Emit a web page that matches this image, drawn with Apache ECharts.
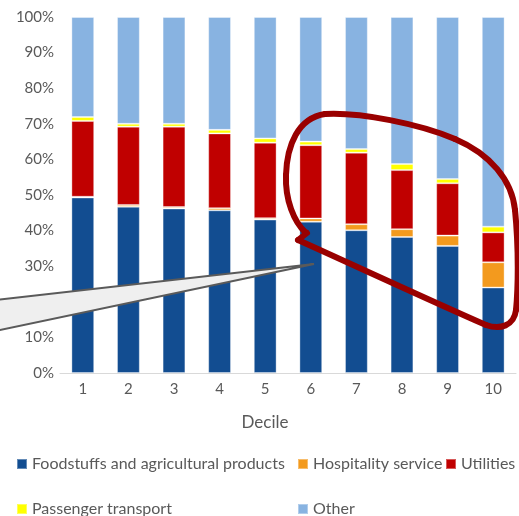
<!DOCTYPE html>
<html>
<head>
<meta charset="utf-8">
<script src="https://cdn.jsdelivr.net/npm/echarts@6/dist/echarts.min.js"></script>
<style>
  html, body { margin: 0; padding: 0; background: #ffffff; }
  #chart { width: 519px; height: 516px; }
</style>
</head>
<body>
<div id="chart"></div>
<script>
// Expenditure shares by income decile (percent of total)
const deciles = ['1', '2', '3', '4', '5', '6', '7', '8', '9', '10'];
const foodstuffs = [49.3, 46.7, 46.2, 45.7, 43.1, 42.5, 40.1, 38.2, 35.7, 24.0];
const hospitality = [0.2, 0.5, 0.4, 0.6, 0.4, 0.9, 1.7, 2.2, 2.9, 7.1];
const utilities = [21.3, 22.0, 22.6, 21.0, 21.2, 20.6, 20.1, 16.6, 14.7, 8.4];
const transport = [1.1, 0.8, 0.8, 1.0, 1.2, 1.0, 1.0, 1.7, 1.2, 1.6];
const other = [28.1, 30.0, 30.0, 31.7, 34.1, 35.0, 37.1, 41.3, 45.5, 58.9];
const yTicks = [0, 10, 20, 30, 40, 50, 60, 70, 80, 90, 100];

const seriesDefs = [
  { name: 'Foodstuffs and agricultural products', data: foodstuffs, color: '#124D91' },
  { name: 'Hospitality service', data: hospitality, color: '#F39A1E' },
  { name: 'Utilities', data: utilities, color: '#C00000' },
  { name: 'Passenger transport', data: transport, color: '#FFFF00' },
  { name: 'Other', data: other, color: '#88B3E1' }
];

const FONT = 'Lato';
const GREY = '#595959';

// Legend laid out as two rows with aligned columns
const legendPos = [
  { left: 16, top: 456 },
  { left: 297, top: 456 },
  { left: 445, top: 456 },
  { left: 16, top: 501 },
  { left: 297, top: 501 }
];

// Highlight loop as cubic segments: [start, cp1, cp2, end]
const loopSegments = [
  [[306, 233], [294, 222], [285, 200], [286, 175]],
  [[286, 175], [287, 145], [298, 118], [325, 114]],
  [[325, 114], [360, 112], [420, 124], [455, 139]],
  [[455, 139], [490, 154], [512, 180], [515, 210]],
  [[515, 210], [519, 250], [518, 290], [516, 310]],
  [[516, 310], [514, 326], [500, 330], [486, 325]],
  [[486, 325], [440, 305], [360, 268], [298, 240]]
];
const LOOP_STYLE = { fill: null, stroke: '#990000', lineWidth: 6, lineCap: 'round', lineJoin: 'round' };

const loopGraphics = loopSegments.map(s => ({
  type: 'bezierCurve',
  z: 101,
  shape: {
    x1: s[0][0], y1: s[0][1],
    cpx1: s[1][0], cpy1: s[1][1],
    cpx2: s[2][0], cpy2: s[2][1],
    x2: s[3][0], y2: s[3][1]
  },
  style: LOOP_STYLE
}));
loopGraphics.push({
  type: 'line',
  z: 101,
  shape: { x1: 298, y1: 240, x2: 307, y2: 233 },
  style: LOOP_STYLE
});

const chart = echarts.init(document.getElementById('chart'), null, { renderer: 'canvas' });

chart.setOption({
  animation: false,
  backgroundColor: '#ffffff',
  grid: { left: 60, right: 3, top: 17, bottom: 143 },
  xAxis: {
    type: 'category',
    data: deciles,
    name: 'Decile',
    nameLocation: 'middle',
    nameGap: 41,
    nameTextStyle: { fontFamily: FONT, fontSize: 17, color: GREY, padding: [0, 46, 0, 0] },
    axisLine: { lineStyle: { color: '#D9D9D9', width: 1 } },
    axisTick: { show: false },
    axisLabel: { fontFamily: FONT, fontSize: 15, color: GREY, margin: 9 }
  },
  yAxis: {
    type: 'value',
    min: yTicks[0],
    max: yTicks[yTicks.length - 1],
    interval: 10,
    axisLine: { show: false },
    axisTick: { show: false },
    splitLine: { show: false },
    axisLabel: { fontFamily: FONT, fontSize: 15, color: GREY, margin: 6, formatter: '{value}%' }
  },
  legend: seriesDefs.map((s, i) => ({
    data: [s.name],
    left: legendPos[i].left,
    top: legendPos[i].top,
    itemWidth: 10,
    itemHeight: 10,
    itemGap: 0,
    padding: 0,
    icon: 'rect',
    textStyle: { fontFamily: FONT, fontSize: 16, color: GREY }
  })),
  series: seriesDefs.map(s => ({
    name: s.name,
    type: 'bar',
    stack: 'total',
    data: s.data,
    barCategoryGap: '50%',
    itemStyle: { color: s.color, borderColor: 'rgba(255,255,255,0.35)', borderWidth: 1 },
    emphasis: { disabled: true }
  })),
  graphic: [
    {
      // callout pointer
      type: 'polygon',
      z: 100,
      shape: { points: [[-5, 300], [314, 264], [-5, 331]] },
      style: { fill: '#EFEFEF', stroke: '#5A5A5A', lineWidth: 2 }
    }
  ].concat(loopGraphics)
});
</script>
</body>
</html>
